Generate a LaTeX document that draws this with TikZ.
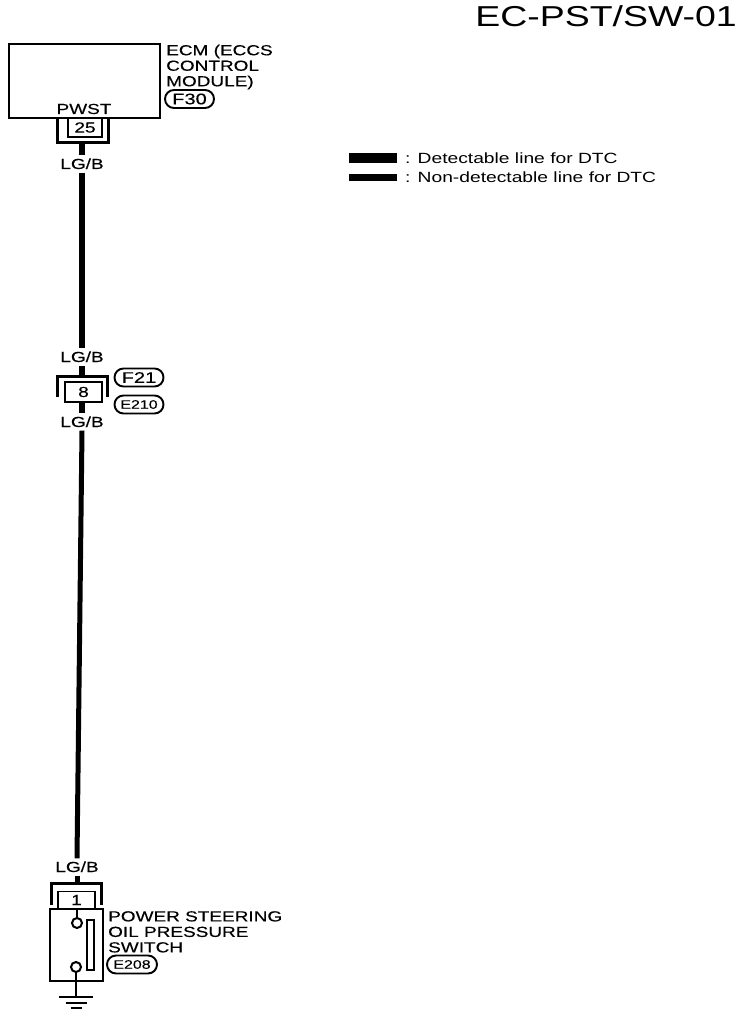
\documentclass[tikz,border=0pt]{standalone}
\usepackage{fontspec}
\setmainfont[FakeStretch=1.3]{Liberation Sans}
\newfontfamily\heavyfont[FakeStretch=1.3,FakeBold=0.3]{Liberation Sans}
\usepackage{tikz}
\usetikzlibrary{calc, positioning, shapes.misc}

\begin{document}
\begin{tikzpicture}[
    x=1pt, y=-1pt,
    every node/.style={font=\heavyfont\fontsize{14.6}{15.5}\selectfont},
    ecmbox/.style={draw, rectangle, line width=2.2pt, minimum width=151pt, minimum height=74pt, inner sep=0pt},
    pinbox/.style={draw, rectangle, line width=1.5pt, fill=white, inner sep=0pt, minimum height=19pt},
    bracket/.style={line width=2.6pt, line join=miter},
    wirethick/.style={line width=6.5pt},
    wirethin/.style={line width=5pt},
    wirelabel/.style={inner sep=0pt, minimum height=17pt, text height=10pt, text depth=0pt},
    tag/.style={draw, rounded rectangle, line width=1.9pt, inner sep=0pt, minimum width=49pt, minimum height=18pt},
    smalltag/.style={tag, font=\heavyfont\fontsize{12.3}{14}\selectfont},
    bigtag/.style={tag, font=\heavyfont\fontsize{15.4}{16}\selectfont},
    caption/.style={anchor=north west, align=left, inner sep=0pt},
    legendtext/.style={anchor=west, inner xsep=8pt, inner ysep=0pt, font=\fontsize{14.8}{18}\selectfont},
    contact/.style={draw, circle, line width=2pt, minimum size=10pt, inner sep=0pt, fill=white},
]
    \useasboundingbox (0,0) rectangle (752,1016);

    % Title
    \node[anchor=base east, inner sep=0pt, font=\fontsize{28.8}{30}\selectfont] (title) at (737,27) {EC-PST/SW-01};

    % Legend
    \coordinate (legA) at (349,158);
    \coordinate (legB) at (349,178);
    \node[legendtext] (legthick) at (397,158) {: Detectable line for DTC};
    \node[legendtext] (legthin) at (397,177) {: Non-detectable line for DTC};
    \draw[line width=10pt] (legA) -- (legthick.west);
    \draw[line width=7pt] (legB) -- (legB -| legthin.west);

    % ECM
    \node[ecmbox] (ecm) at (84.5,81) {};
    \node[anchor=base, inner sep=0pt] (pwst) at (84,114) {PWST};
    \node[caption] (ecmtext) at (166,44.5) {ECM (ECCS\\CONTROL\\MODULE)};
    \node[bigtag] (f30) at (189.5,99) {F30};

    \node[pinbox, minimum width=34pt] (pin25) at (85,127.5) {25};
    \draw[bracket] ($(pin25.north west)+(-9.5,0)$) |- ($(pin25.south)+(0,5)$) coordinate (brA) -| ($(pin25.north east)+(6,0)$);

    % Upper wire
    \node[wirelabel] (lgbA) at (82,164) {LG/B};
    \node[wirelabel] (lgbB) at (82,357) {LG/B};
    \draw[wirethick] (brA -| lgbA) -- (lgbA.north);
    \draw[wirethick] (lgbA.south) -- (lgbB.north);

    % Middle connector
    \node[pinbox, minimum width=37pt, minimum height=20pt] (pin8) at (83.5,392) {8};
    \coordinate (brB) at ($(pin8.north)+(0,-5)$);
    \draw[bracket] ($(pin8.west)+(-7,5)$) |- (brB) -| ($(pin8.east)+(5,5)$);
    \node[bigtag] (f21) at (139,377.5) {F21};
    \node[smalltag] (e210) at (139,404.5) {E210};
    \node[wirelabel] (lgbC) at (82,422) {LG/B};
    \node[wirelabel] (lgbD) at (77,867) {LG/B};
    \draw[wirethick] (lgbB.south) -- (brB -| lgbB);
    \draw[wirethick] (pin8.south -| lgbC) -- (lgbC.north);

    % Lower wire
    \draw[wirethin] (lgbC.south) -- (lgbD.north);

    % Switch
    \node[pinbox, minimum width=37pt, minimum height=17pt] (pin1) at (76.5,900) {1};
    \coordinate (brC) at ($(pin1.north)+(0,-7)$);
    \draw[bracket] ($(pin1.west)+(-6,5)$) |- (brC) -| ($(pin1.east)+(6,5)$);
    \draw[wirethin] (lgbD.south) -- (brC -| lgbD);

    \node[draw, rectangle, line width=2.2pt, minimum width=53pt, minimum height=72pt, inner sep=0pt] (switch) at (76.5,945) {};
    \node[contact] (swA) at (77,923) {};
    \node[contact] (swB) at (76,967) {};
    \node[draw, rectangle, line width=1.6pt, minimum width=7pt, minimum height=50pt, inner sep=0pt] (swbar) at (90.5,945) {};
    \coordinate (gnd) at (76,997);
    \draw[line width=2pt] (switch.north -| swA) -- (swA.north);
    \draw[line width=2pt] (swB.south) -- (gnd);
    \foreach \i/\w in {0/17,6/10.5,11/5.5} {
        \draw[line width=1.8pt] ($(gnd)+(-\w,\i)$) -- ($(gnd)+(\w,\i)$);
    }
    \node[caption] (swtext) at (108,911) {POWER STEERING\\OIL PRESSURE\\SWITCH};
    \node[smalltag, minimum width=50pt] (e208) at (132,964.5) {E208};

\end{tikzpicture}
\end{document}
